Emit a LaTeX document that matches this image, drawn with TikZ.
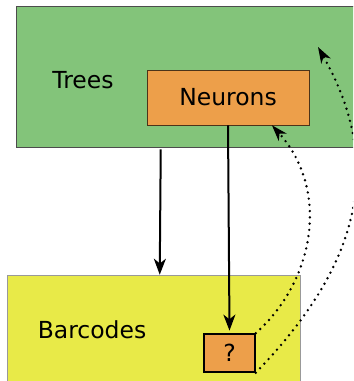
\documentclass[tikz,border=0pt]{standalone}
\usepackage{fontspec}
\setmainfont{DejaVu Sans}
\usetikzlibrary{arrows.meta}
\definecolor{treegreen}{RGB}{131,196,122}
\definecolor{neuronorange}{RGB}{237,159,74}
\definecolor{baryellow}{RGB}{232,234,72}

\begin{document}
\begin{tikzpicture}[x=0.75pt,y=-0.75pt,
    every node/.style={font=\fontsize{17.6}{20}\selectfont},
    box/.style={shape=rectangle,inner sep=0pt},
    arrow/.style={-{Stealth[length=12pt,width=9pt,inset=3.5pt]},line width=1.5pt},
    dots/.style={-{Stealth[length=12pt,width=8pt,inset=3.5pt]},line width=2pt,line cap=round,dash pattern=on 0pt off 4.7pt}]
    \clip (0,0) rectangle (353,381);
    \node[box,draw=black!70,fill=treegreen,minimum width=273pt,minimum height=105.75pt] (treesbox) at (198,76.5) {};
    \node[box,draw=gray!80,fill=baryellow,minimum width=219.75pt,minimum height=93.75pt] (barbox) at (153.5,337.5) {};
    \node (trees) at (83,80) {Trees};
    \node (barcodes) at (92,330) {Barcodes};
    \node[box,draw=black!60!brown,fill=neuronorange,minimum width=121.5pt,minimum height=41.25pt] (neurons) at (228,97.5) {Neurons};
    \node[box,draw=black,line width=1.1pt,fill=neuronorange,minimum width=38.25pt,minimum height=28.5pt] (qbox) at (229.5,353) {?};
    \coordinate (target) at (318,47);
    \draw [arrow] ([shift={(145,2)}]treesbox.south west) -- ([shift={(153,0)}]barbox.north west);
    \draw [arrow] (neurons.south) -- ([yshift=2pt]qbox.north);
    \draw [dots] (qbox.north east) .. controls (315,280) and (330,190) .. ([xshift=-28pt]neurons.south east);
    \draw [dots] (qbox.south east) .. controls (360,265) and (385,165) .. (target);
\end{tikzpicture}
\end{document}
